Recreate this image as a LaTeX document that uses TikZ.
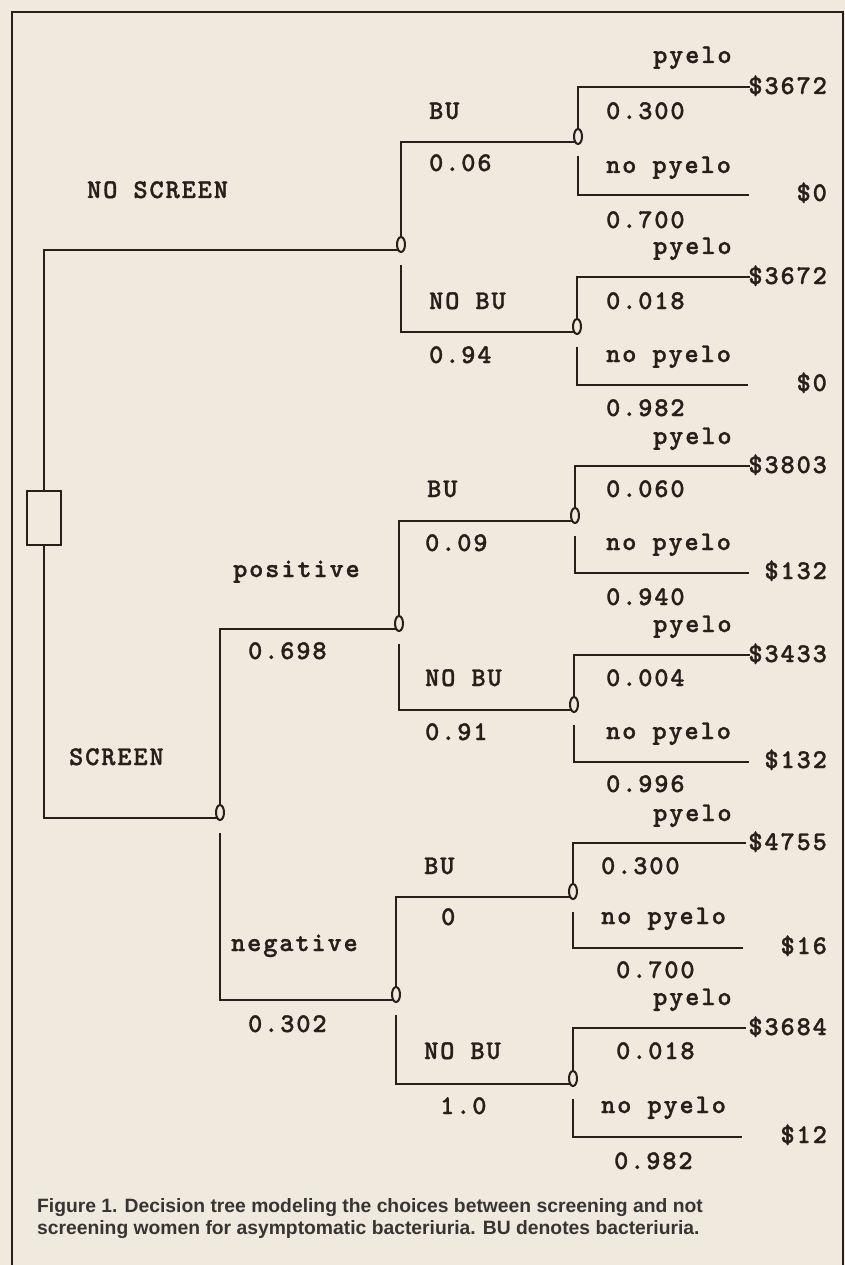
\documentclass[tikz,border=0pt]{standalone}
\usepackage{fontspec}
\setmainfont{Liberation Sans}
\newfontfamily\treefont[LetterSpace=7,FakeBold=1.2]{lmmonolt10-bold.otf}
\newfontfamily\captfont{Liberation Sans}
\usetikzlibrary{shapes.geometric,calc}
\definecolor{paper}{RGB}{239,233,222}
\definecolor{ink}{RGB}{38,32,28}
\definecolor{capink}{RGB}{55,52,52}
\begin{document}
\begin{tikzpicture}[x=1pt,y=-1pt,line width=2.3pt,draw=ink,
  lbl/.style={anchor=base west,inner sep=0pt,text=ink,font=\treefont\fontsize{27}{27}\selectfont},
  val/.style={lbl,anchor=base east},
  chance/.style={draw=ink,ellipse,minimum width=8pt,minimum height=15pt,inner sep=0pt,outer sep=0pt,line width=2pt,fill=paper},
  decision/.style={draw=ink,rectangle,minimum width=34pt,minimum height=54pt,inner sep=0pt,outer sep=0pt,line width=2.3pt},
  captxt/.style={anchor=base west,inner sep=0pt,text=capink,font=\captfont\bfseries\fontsize{19.3}{22}\selectfont}]
\fill[paper] (0,0) rectangle (845,1265);
\useasboundingbox (0,0) rectangle (845,1265);
% frame
\draw[line width=2.6pt] (12,1280) -- (12,12) -- (843,12) -- (843,1280);

% decision and chance nodes
\node[decision] (d) at (44,518) {};
\node[chance] (c0) at (401,244.5) {};
\node[chance] (c1) at (220,812.5) {};
\node[chance] (cp) at (399,623.5) {};
\node[chance] (cn) at (396,994.5) {};
\node[chance] (c00) at (578,136.5) {};
\node[chance] (c01) at (577,326.5) {};
\node[chance] (c10) at (575,515.5) {};
\node[chance] (c11) at (574,704.5) {};
\node[chance] (c20) at (573,891.5) {};
\node[chance] (c21) at (573,1078.5) {};

% first level
\draw (d.north) |- (c0.south west);
\draw (d.south) |- (c1.south west);
% second level
\draw (c0.north) |- (c00.south west);
\draw ($(c0)+(0,20)$) |- (c01.south west);
\draw (c1.north) |- (cp.south west);
\draw ($(c1)+(0,20)$) |- (cn.south west);
\draw (cp.north) |- (c10.south west);
\draw ($(cp)+(0,20)$) |- (c11.south west);
\draw (cn.north) |- (c20.south west);
\draw ($(cn)+(0,20)$) |- (c21.south west);

% leaves
\foreach \n/\yu/\yl/\xu/\xl in {c00/87/195/750/749, c01/277/385/750/748, c10/466/573/750/749, c11/655/762/750/749, c20/843/948/746/743, c21/1028/1137/746/742}{
  \coordinate (\n u) at (\xu,\yu);
  \coordinate (\n l) at (\xl,\yl);
  \draw (\n.north) |- (\n u);
  \draw ($(\n)+(0,20)$) |- (\n l);
}

% top-level labels
\node[lbl] (tNS) at (86,198) {NO SCREEN};
\node[lbl] (tS) at (68,765) {SCREEN};
\node[lbl] (tpos) at (232,577) {positive};
\node[lbl] (tpp) at (247,659) {0.698};
\node[lbl] (tneg) at (230,951) {negative};
\node[lbl] (tnp) at (247,1032) {0.302};

% second-level labels
\node[lbl] (b0) at (428,119) {BU};
\node[lbl] (b0p) at (428,171) {0.06};
\node[lbl] (n0) at (428,309) {NO BU};
\node[lbl] (n0p) at (428,363) {0.94};
\node[lbl] (b1) at (426,497) {BU};
\node[lbl] (b1p) at (424,551) {0.09};
\node[lbl] (n1) at (424,686) {NO BU};
\node[lbl] (n1p) at (424,740) {0.91};
\node[lbl] (b2) at (423,874) {BU};
\node[lbl] (b2p) at (440,925) {0};
\node[lbl] (n2) at (423,1059) {NO BU};
\node[lbl] (n2p) at (439,1114) {1.0};

% third-level labels
\foreach \n/\bp/\ba/\bn/\bb/\yu/\yl/\vu/\vl/\pa/\pb/\xa/\xn/\xb in {
  c00/63/119/173/228/87/195/{\$3672}/{\$0}/0.300/0.700/605/605/605,
  c01/254/309/362/416/277/385/{\$3672}/{\$0}/0.018/0.982/605/605/605,
  c10/444/497/550/605/466/573/{\$3803}/{\$132}/0.060/0.940/605/605/605,
  c11/632/686/739/792/655/762/{\$3433}/{\$132}/0.004/0.996/605/605/605,
  c20/821/874/924/978/843/948/{\$4755}/{\$16}/0.300/0.700/600/600/615,
  c21/1005/1059/1113/1169/1028/1137/{\$3684}/{\$12}/0.018/0.982/615/600/613}{
  \node[lbl] (\n py) at (652,\bp) {pyelo};
  \node[lbl] (\n pa) at (\xa,\ba) {\pa};
  \node[lbl] (\n np) at (\xn,\bn) {no pyelo};
  \node[lbl] (\n pb) at (\xb,\bb) {\pb};
  \node[val] (\n vu) at (828,\yu+7) {\vu};
  \node[val] (\n vl) at (828,\yl+6) {\vl};
}

% caption
\node[captxt] (cap1) at (36,1212) {Figure 1. Decision tree modeling the choices between screening and not};
\node[captxt] (cap2) at (36,1234) {screening women for asymptomatic bacteriuria. BU denotes bacteriuria.};
\end{tikzpicture}
\end{document}
